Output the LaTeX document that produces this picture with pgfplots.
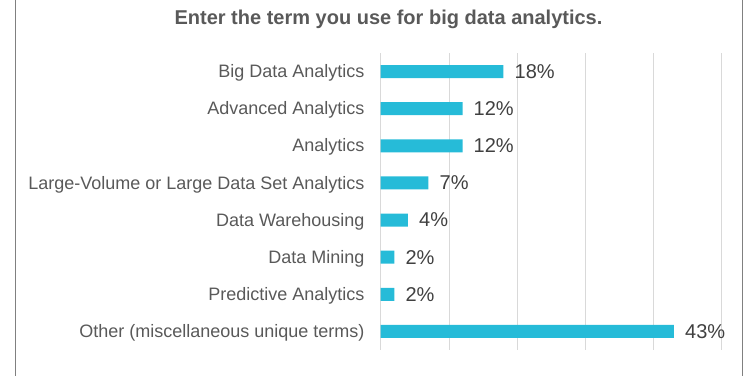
\documentclass[border=0pt]{standalone}
\usepackage{pgfplots}
\pgfplotsset{compat=1.18}
\usepackage{fontspec}
\setmainfont{Liberation Sans}
\definecolor{barc}{RGB}{38,187,216}
\definecolor{txt}{RGB}{89,89,89}
\definecolor{val}{RGB}{64,64,64}
\definecolor{gridc}{RGB}{217,217,217}
\definecolor{framec}{RGB}{128,128,128}
\begin{document}
\begin{tikzpicture}
\path[use as bounding box] (0,0) rectangle (755bp,376bp);
\draw[framec, line width=1bp] (15.7bp,0) -- (15.7bp,376bp);
\draw[framec, line width=1bp] (742.3bp,0) -- (742.3bp,376bp);
\node[anchor=base, font=\bfseries\fontsize{20bp}{24bp}\selectfont, text=txt, inner sep=0pt] at (388.5bp,351bp) {Enter the term you use for big data analytics.};
\begin{axis}[
  at={(380.7bp,26bp)}, anchor=south west,
  scale only axis, width=341bp, height=297bp,
  xbar, bar width=13bp,
  xmin=0, xmax=50, ymin=-0.5, ymax=7.5, y dir=reverse,
  /pgf/number format/assume math mode=true,
  ytick={0,...,7},
  yticklabels={Big Data Analytics, Advanced Analytics, Analytics, Large-Volume or Large Data Set Analytics, Data Warehousing, Data Mining, Predictive Analytics, Other (miscellaneous unique terms)},
  xtick={0,10,...,50}, xticklabels={},
  xmajorgrids, grid style={gridc, line width=0.75bp},
  axis line style={draw=none},
  major tick length=0pt,
  yticklabel style={font=\fontsize{18bp}{20bp}\selectfont, text=txt, anchor=east, inner sep=0pt, xshift=-16bp, yshift=-1.5bp},
  nodes near coords={\pgfmathprintnumber[assume math mode=true]{\pgfplotspointmeta}\%},
  nodes near coords style={font=\fontsize{20bp}{24bp}\selectfont, text=val, anchor=west, inner sep=0pt, xshift=11bp},
]
\addplot[fill=barc, draw=none] coordinates {(18,0) (12,1) (12,2) (7,3) (4,4) (2,5) (2,6) (43,7)};
\end{axis}
\end{tikzpicture}
\end{document}
